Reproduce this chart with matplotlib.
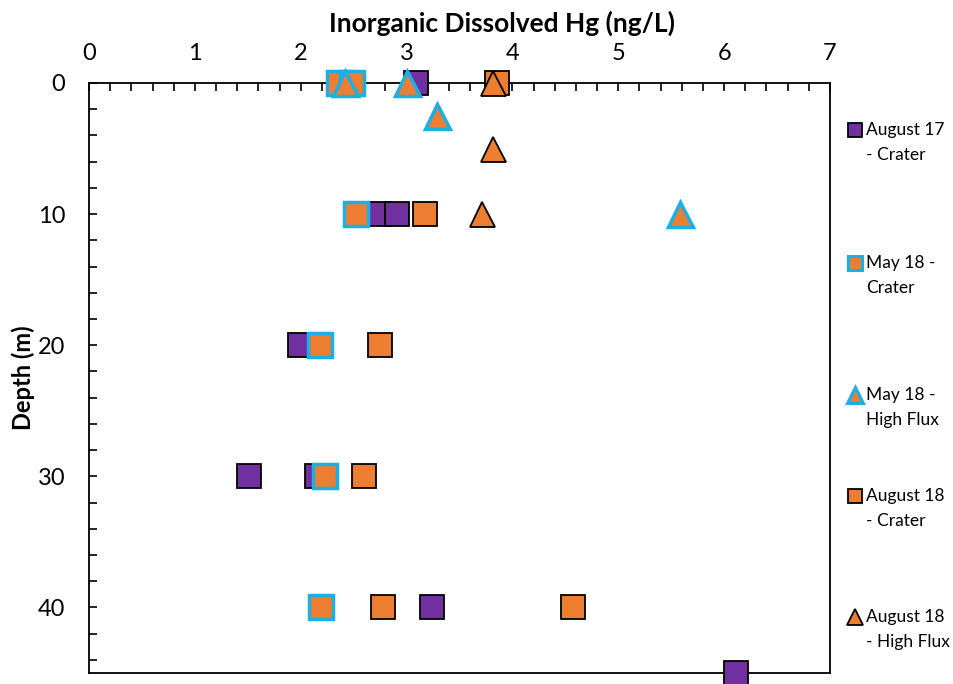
import matplotlib.pyplot as plt
from matplotlib.lines import Line2D
from matplotlib.ticker import MultipleLocator

# Inorganic dissolved Hg (ng/L) vs depth (m), per sampling series
aug17_crater_hg = [3.09, 2.75, 2.91, 1.99, 1.51, 2.15, 3.24, 6.11]
aug17_crater_depth = [0, 10, 10, 20, 30, 30, 40, 45]

may18_crater_hg = [2.36, 2.48, 2.52, 2.18, 2.23, 2.19]
may18_crater_depth = [0, 0, 10, 20, 30, 40]

may18_flux_hg = [2.42, 3.00, 3.29, 5.58]
may18_flux_depth = [0, 0, 2.5, 10]

aug18_crater_hg = [3.85, 3.17, 2.75, 2.60, 2.78, 4.57]
aug18_crater_depth = [0, 10, 20, 30, 40, 40]

aug18_flux_hg = [3.82, 3.82, 3.71]
aug18_flux_depth = [0, 5, 10]

labels = ["August 17\n- Crater", "May 18 -\nCrater", "May 18 -\nHigh Flux",
          "August 18\n- Crater", "August 18\n- High Flux"]

PURPLE = "#7030A0"
ORANGE = "#ED7D31"
BLUE = "#1AAFE6"

plt.rcParams["font.family"] = ["Lato", "DejaVu Sans"]

fig = plt.figure(figsize=(9.54, 6.84), dpi=100)
ax = fig.add_axes([0.0933, 0.016, 0.7767, 0.8627])

series = [
    (aug17_crater_hg, aug17_crater_depth, "s", PURPLE, "black", 1.3),
    (may18_crater_hg, may18_crater_depth, "s", ORANGE, BLUE, 2.5),
    (may18_flux_hg, may18_flux_depth, "^", ORANGE, BLUE, 2.5),
    (aug18_crater_hg, aug18_crater_depth, "s", ORANGE, "black", 1.3),
    (aug18_flux_hg, aug18_flux_depth, "^", ORANGE, "black", 1.3),
]
# draw order roughly as in the original (purple under, crater orange over)
order = [0, 3, 1, 4, 2]
for i in order:
    x, y, m, fc, ec, lw = series[i]
    ms = 17 if m == "s" else 18
    ax.plot(x, y, linestyle="none", marker=m, markersize=ms,
            markerfacecolor=fc, markeredgecolor=ec, markeredgewidth=lw,
            clip_on=False, zorder=3 + i)

ax.set_xlim(0, 7)
ax.set_ylim(45, 0)
ax.xaxis.tick_top()
ax.xaxis.set_label_position("top")
ax.xaxis.set_major_locator(MultipleLocator(1))
ax.xaxis.set_minor_locator(MultipleLocator(0.2))
ax.yaxis.set_major_locator(MultipleLocator(10))
ax.yaxis.set_minor_locator(MultipleLocator(2))
ax.tick_params(which="both", direction="in", labelsize=17, width=1.2,
               top=True, bottom=False, left=True, right=False)
ax.tick_params(which="major", length=6)
ax.tick_params(axis="x", which="major", pad=14)
ax.tick_params(axis="y", which="major", pad=17)
ax.tick_params(which="minor", length=6)
for s in ax.spines.values():
    s.set_linewidth(1.3)

ax.set_xlabel("Inorganic Dissolved Hg (ng/L)", fontsize=19, fontweight="bold")
ax.xaxis.set_label_coords(0.557, 1.087)
ax.set_ylabel("Depth (m)", fontsize=17, fontweight="bold", labelpad=2)

# legend drawn by hand: marker aligned to the first line of each label
legend_y = [0.810, 0.615, 0.422, 0.275, 0.098]
line_gap = 0.036
for i, (x, y, m, fc, ec, lw) in enumerate(series):
    ly = legend_y[i]
    fig.add_artist(Line2D([0.8965], [ly], marker=m, linestyle="none",
                          markersize=10 if m == "s" else 11,
                          markerfacecolor=fc, markeredgecolor=ec,
                          markeredgewidth=lw if ec == "black" else 2.2,
                          transform=fig.transFigure))
    first, second = labels[i].split("\n")
    fig.text(0.908, ly, first, fontsize=12.5, va="center", ha="left")
    fig.text(0.908, ly - line_gap, second, fontsize=12.5, va="center", ha="left")

fig.savefig("out.png", dpi=100)
